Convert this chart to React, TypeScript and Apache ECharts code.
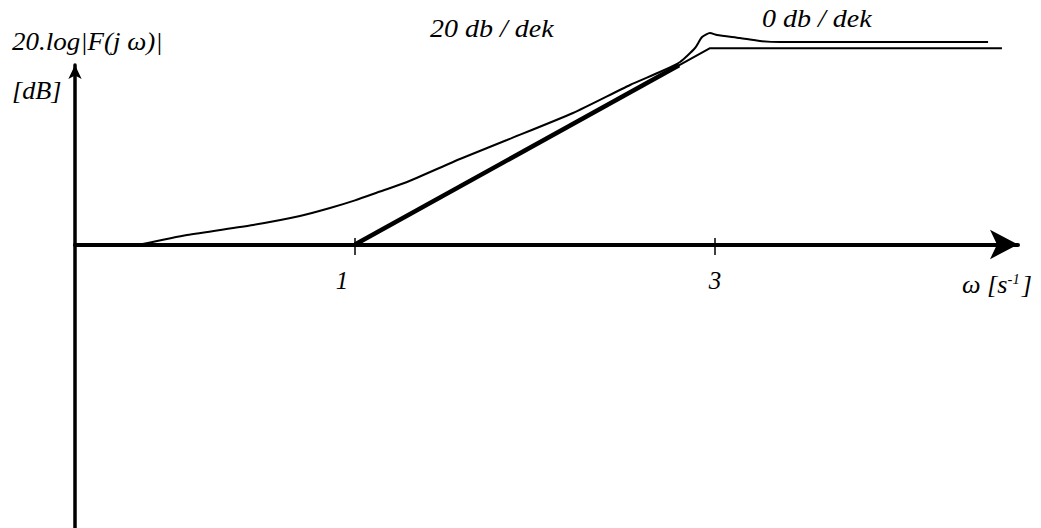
import React, { useEffect, useRef } from "react";
import * as echarts from "echarts";

// ω positions of the labelled ticks (log-scale decades as drawn)
const tickValues = [1, 3];
const tickLabels = ["1", "3"];

// Straight-line (asymptotic) approximation: [ω-position, dB]
const asymptote: [number, number][] = [
  [1, 0],
  [2.97, 40],
  [4.594, 40],
];
// Bold part of the rising asymptote
const asymptoteBold: [number, number][] = [
  [1, 0],
  [2.8, 36.55],
];
// True magnitude response: [ω-position, dB]
const response: [number, number][] = [
  [-0.194, 0],
  [0.067, 1.94],
  [0.433, 3.98],
  [0.694, 5.81],
  [0.861, 7.44],
  [1.0, 9.0],
  [1.139, 10.8],
  [1.289, 12.74],
  [1.583, 17.43],
  [1.844, 21.3],
  [2.211, 26.81],
  [2.528, 32.52],
  [2.694, 35.17],
  [2.806, 37.21],
  [2.889, 40.06],
  [2.928, 42.3],
  [2.972, 43.12],
  [3.011, 42.71],
  [3.139, 42.1],
  [3.25, 41.49],
  [3.361, 41.28],
  [4.517, 41.28],
];

const yAxisTitle = "20.log|F(j ω)|";
const yAxisUnit = "[dB]";
const slopeLabelRise = "20 db / dek";
const slopeLabelFlat = "0 db / dek";

const FONT = "'Liberation Serif', 'Times New Roman', serif";

export default function App() {
  const ref = useRef<HTMLDivElement>(null);
  useEffect(() => {
    if (!ref.current) return;
    const chart = echarts.init(ref.current, null, { renderer: "svg" });
    const textEl = (s: string, x: number, y: number, sx = 1.12) => ({
      type: "text",
      x,
      y,
      scaleX: sx,
      style: {
        text: s,
        fontFamily: FONT,
        fontStyle: "italic",
        fontSize: 25,
        fill: "#000",
        verticalAlign: "middle",
        align: "left",
      },
    });
    const tickData = tickValues.map((v, i) => ({
      value: [v, 0],
      name: tickLabels[i],
      label: { offset: [i === 0 ? -13 : 0, 0] },
    }));
    chart.setOption({
      animation: false,
      backgroundColor: "#fff",
      grid: {
        left: 75,
        right: 23,
        top: 65,
        bottom: 0,
        containLabel: false,
        outerBoundsMode: "none",
      },
      xAxis: {
        type: "value",
        min: -0.5556,
        max: 4.6833,
        axisLine: {
          onZero: true,
          lineStyle: { color: "#000", width: 4 },
          symbol: ["none", "arrow"],
          symbolSize: [22, 28],
        },
        axisTick: { show: false },
        axisLabel: { show: false },
        splitLine: { show: false },
      },
      yAxis: {
        type: "value",
        min: -57.8,
        max: 36.6,
        axisLine: {
          onZero: false,
          lineStyle: { color: "#000", width: 3.5 },
          symbol: ["none", "arrow"],
          symbolSize: [10, 14],
        },
        axisTick: { show: false },
        axisLabel: { show: false },
        splitLine: { show: false },
      },
      series: [
        {
          type: "line",
          data: asymptote,
          showSymbol: false,
          clip: false,
          lineStyle: { color: "#000", width: 2 },
        },
        {
          type: "line",
          data: asymptoteBold,
          showSymbol: false,
          clip: false,
          lineStyle: { color: "#000", width: 4.5 },
        },
        {
          type: "line",
          data: response,
          showSymbol: false,
          clip: false,
          smooth: 0.2,
          lineStyle: { color: "#000", width: 2 },
        },
        {
          // tick marks and tick labels on the ω axis
          type: "scatter",
          data: tickData,
          symbol: "rect",
          symbolSize: [1.5, 17],
          symbolOffset: [0, 2],
          clip: false,
          itemStyle: { color: "#000", opacity: 1 },
          z: 5,
          label: {
            show: true,
            position: "bottom",
            distance: 13,
            formatter: (p: any) => p.name,
            fontFamily: FONT,
            fontStyle: "italic",
            fontSize: 25,
            color: "#000",
            opacity: 1,
          },
        },
      ],
      graphic: [
        textEl(yAxisTitle, 12, 41.5, 1.08),
        textEl(yAxisUnit, 12, 91, 1.05),
        textEl(slopeLabelRise, 430, 29),
        textEl(slopeLabelFlat, 762, 19),
        {
          type: "text",
          x: 962,
          y: 285,
          scaleX: 1.05,
          style: {
            text: "{w|ω} {n|[s}{s|-1}{n|]}",
            fontFamily: FONT,
            fontStyle: "italic",
            fontSize: 25,
            fill: "#000",
            verticalAlign: "middle",
            rich: {
              w: { fontFamily: FONT, fontStyle: "italic", fontSize: 25, fill: "#000" },
              n: { fontFamily: FONT, fontStyle: "italic", fontSize: 25, fill: "#000" },
              s: {
                fontFamily: FONT,
                fontStyle: "italic",
                fontSize: 14,
                fill: "#000",
                verticalAlign: "top",
                padding: [0, 2, 10, 0],
              },
            },
          },
        },
      ],
    });
    return () => chart.dispose();
  }, []);
  return (
    <div
      ref={ref}
      style={{ position: "fixed", left: 0, top: 0, width: 1041, height: 528 }}
    />
  );
}
